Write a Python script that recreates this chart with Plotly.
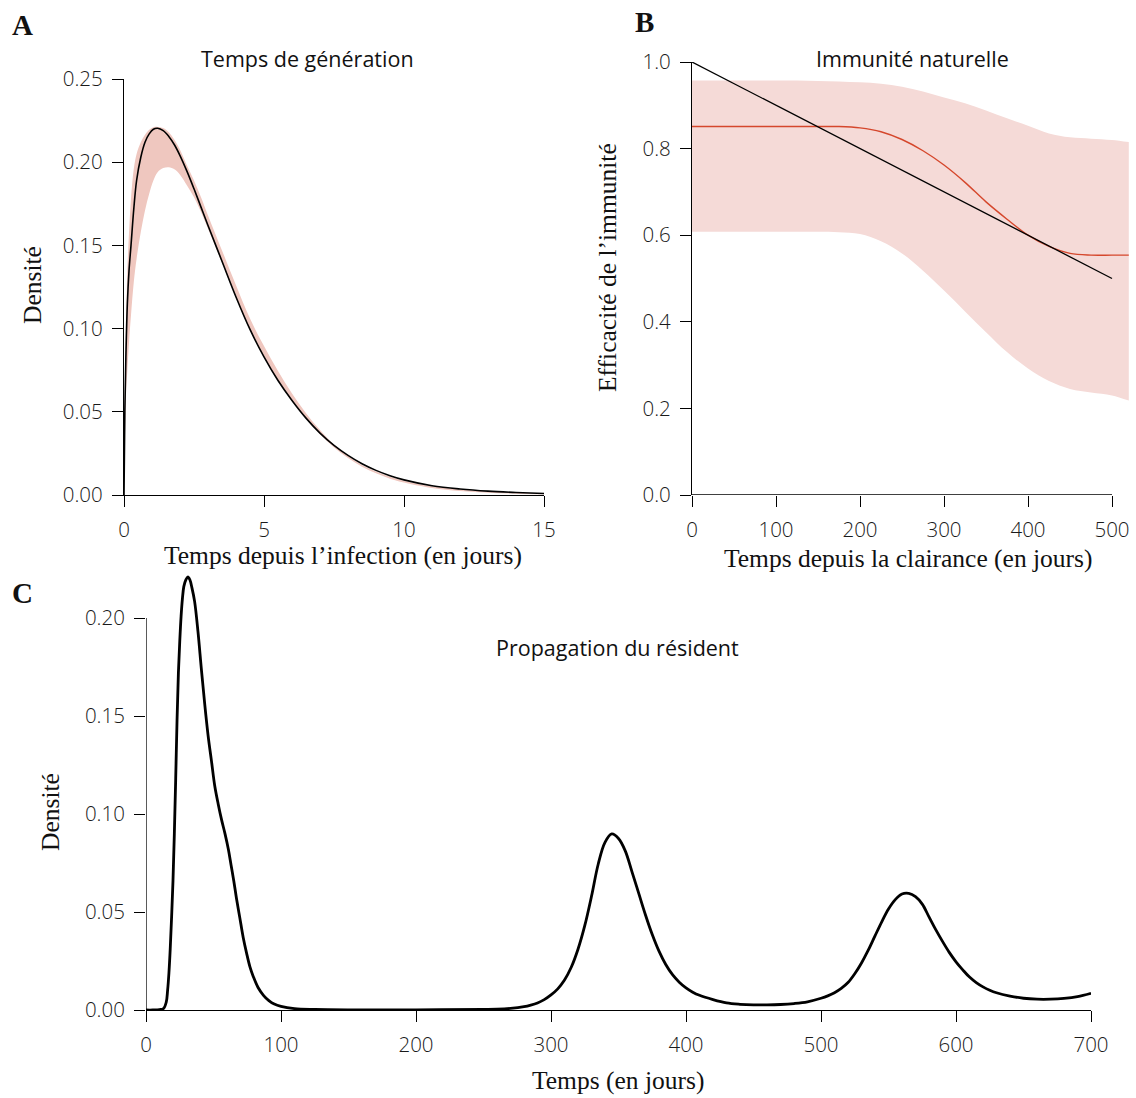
import plotly.graph_objects as go

# ---------------- Panel A : generation time ----------------
a_days = [0, 0.03, 0.07, 0.12, 0.18, 0.25, 0.35, 0.45, 0.6, 0.75, 0.9, 1.05, 1.2, 1.4, 1.6,
          1.8, 2.0, 2.25, 2.5, 2.75, 3.0, 3.5, 4.0, 4.5, 5.0, 5.5, 6.0, 6.5, 7.0, 7.5,
          8.0, 8.5, 9.0, 9.5, 10, 11, 12, 13, 14, 15]
a_density = [0, 0.05, 0.085, 0.115, 0.135, 0.150, 0.172, 0.189, 0.203, 0.212, 0.217, 0.2198,
             0.2204, 0.219, 0.2155, 0.2105, 0.204, 0.1945, 0.184, 0.173, 0.162, 0.1405,
             0.119, 0.0995, 0.0830, 0.0688, 0.0568, 0.0462, 0.0372, 0.0298, 0.0238, 0.0188,
             0.0148, 0.0116, 0.0091, 0.0056, 0.0036, 0.0023, 0.0015, 0.0009]
a_upper = [0, 0.06, 0.10, 0.135, 0.158, 0.178, 0.196, 0.205, 0.212, 0.2165, 0.2195, 0.221,
           0.2212, 0.2205, 0.218, 0.2135, 0.2075, 0.198, 0.189, 0.179, 0.168, 0.147, 0.126,
           0.106, 0.0895, 0.0745, 0.0610, 0.0492, 0.0390, 0.0302, 0.0234, 0.0181, 0.0141,
           0.0110, 0.0086, 0.0052, 0.0033, 0.0021, 0.0013, 0.0008]
a_lower = [0, 0.03, 0.06, 0.075, 0.092, 0.108, 0.128, 0.142, 0.158, 0.171, 0.181, 0.189,
           0.194, 0.1965, 0.197, 0.1958, 0.1925, 0.186, 0.179, 0.170, 0.160, 0.1395, 0.1185,
           0.0992, 0.0828, 0.0686, 0.0566, 0.0458, 0.0365, 0.0286, 0.0222, 0.0170, 0.0130,
           0.0098, 0.0075, 0.0042, 0.0024, 0.0014, 0.0008, 0.0005]
a_xticks = [0, 5, 10, 15]
a_yticks = [0.00, 0.05, 0.10, 0.15, 0.20, 0.25]

# ---------------- Panel B : natural immunity ----------------
b_days = [0, 25, 50, 75, 100, 125, 150, 175, 200, 225, 250, 275, 300, 325, 350, 375, 400,
          425, 450, 475, 500, 520]
b_upper = [0.957, 0.957, 0.957, 0.957, 0.957, 0.957, 0.956, 0.955, 0.953, 0.950, 0.943,
           0.932, 0.918, 0.905, 0.888, 0.870, 0.853, 0.835, 0.826, 0.823, 0.820, 0.815]
b_lower = [0.608, 0.608, 0.608, 0.608, 0.608, 0.608, 0.608, 0.607, 0.603, 0.586, 0.558,
           0.518, 0.472, 0.424, 0.376, 0.330, 0.292, 0.263, 0.245, 0.237, 0.230, 0.218]
b_median = [0.851, 0.851, 0.851, 0.851, 0.851, 0.851, 0.851, 0.851, 0.848, 0.839, 0.821,
            0.795, 0.762, 0.722, 0.677, 0.637, 0.600, 0.574, 0.558, 0.554, 0.554, 0.554]
b_line_days = [0, 500]
b_line_vals = [1.0, 0.5]
b_xticks = [0, 100, 200, 300, 400, 500]
b_yticks = [0.0, 0.2, 0.4, 0.6, 0.8, 1.0]

# ---------------- Panel C : resident spread ----------------
c_days = [0, 5, 10, 13, 15, 16, 17, 18, 19, 20, 21, 22, 23, 24, 25, 26, 27, 28, 29.5, 31,
          32.5, 34, 36, 38.5, 41, 43.5, 46, 48.5, 51, 53.5, 56, 58.5, 61, 63, 65, 67, 69.5,
          72, 74.5, 77, 79.5, 83, 87, 91, 95, 100, 110, 125, 150, 200, 250, 260, 270, 280,
          285, 290, 295, 300, 305, 310, 315, 320, 325, 330, 335, 340, 345, 350, 355, 360,
          365, 370, 375, 380, 385, 390, 395, 400, 405, 410, 420, 430, 440, 450, 460, 470,
          480, 490, 500, 505, 510, 515, 520, 525, 530, 535, 540, 545, 550, 555, 560, 565,
          570, 575, 580, 585, 590, 595, 600, 605, 610, 615, 620, 625, 630, 640, 650, 660,
          670, 680, 690, 700]
c_density = [0, 0, 0.0002, 0.0008, 0.004, 0.010, 0.019, 0.032, 0.048, 0.066, 0.090, 0.118,
             0.148, 0.172, 0.188, 0.201, 0.210, 0.216, 0.2195, 0.221, 0.2195, 0.2155,
             0.2085, 0.193, 0.174, 0.156, 0.140, 0.127, 0.114, 0.105, 0.097, 0.090, 0.082,
             0.074, 0.066, 0.057, 0.047, 0.037, 0.029, 0.022, 0.017, 0.0115, 0.0075, 0.0048,
             0.003, 0.0018, 0.0007, 0.0003, 0.0001, 0.0001, 0.0003, 0.0004, 0.0008, 0.0017,
             0.0025, 0.0036, 0.0053, 0.0077, 0.0108, 0.0153, 0.0218, 0.031, 0.043, 0.058,
             0.0745, 0.0855, 0.0898, 0.0875, 0.0812, 0.0705, 0.0595, 0.0485, 0.0385, 0.0300,
             0.0232, 0.0180, 0.0142, 0.0113, 0.0091, 0.0075, 0.0053, 0.0036, 0.0029, 0.0026,
             0.0026, 0.0028, 0.0033, 0.0042, 0.0060, 0.0072, 0.0088, 0.0110, 0.0140, 0.0185,
             0.0240, 0.0305, 0.0378, 0.0450, 0.0515, 0.0563, 0.0592, 0.0595, 0.0578, 0.0540,
             0.0475, 0.0410, 0.0350, 0.0294, 0.0246, 0.0205, 0.0168, 0.0140, 0.0118, 0.0101,
             0.0088, 0.0071, 0.0060, 0.0055, 0.0055, 0.0059, 0.0068, 0.0085]
c_xticks = [0, 100, 200, 300, 400, 500, 600, 700]
c_yticks = [0.00, 0.05, 0.10, 0.15, 0.20]

# ---------------- styling ----------------
W, H = 1136, 1098
SANS = "Open Sans"
SERIF = "Liberation Serif"
BAND_A = "#efc7bf"
BAND_B = "#f5dad7"
RED = "#d5472c"


def px_x(p):
    return p / W


def px_y(p):
    return 1 - p / H


fig = go.Figure()

# Panel A
fig.add_trace(go.Scatter(x=a_days, y=a_lower, mode="lines", line=dict(width=0),
                         line_shape="spline", hoverinfo="skip", xaxis="x", yaxis="y"))
fig.add_trace(go.Scatter(x=a_days, y=a_upper, mode="lines", line=dict(width=0), fill="tonexty",
                         fillcolor=BAND_A, line_shape="spline", hoverinfo="skip",
                         xaxis="x", yaxis="y"))
fig.add_trace(go.Scatter(x=a_days, y=a_density, mode="lines", line=dict(color="black", width=1.6),
                         line_shape="spline", xaxis="x", yaxis="y"))

# Panel B
fig.add_trace(go.Scatter(x=b_days, y=b_lower, mode="lines", line=dict(width=0),
                         line_shape="spline", hoverinfo="skip", xaxis="x2", yaxis="y2"))
fig.add_trace(go.Scatter(x=b_days, y=b_upper, mode="lines", line=dict(width=0), fill="tonexty",
                         fillcolor=BAND_B, line_shape="spline", hoverinfo="skip",
                         xaxis="x2", yaxis="y2"))
fig.add_trace(go.Scatter(x=b_days, y=b_median, mode="lines", line=dict(color=RED, width=1.4),
                         line_shape="spline", xaxis="x2", yaxis="y2"))
fig.add_trace(go.Scatter(x=b_line_days, y=b_line_vals, mode="lines",
                         line=dict(color="black", width=1.3), xaxis="x2", yaxis="y2"))

# Panel C
fig.add_trace(go.Scatter(x=c_days, y=c_density, mode="lines", line=dict(color="black", width=2.8),
                         line_shape="spline", xaxis="x3", yaxis="y3"))

tickfont = dict(family=SANS, size=20.5, color="#1a1a1a", weight=300)
axis_common = dict(showgrid=False, zeroline=False, ticks="outside", ticklen=11, tickwidth=1.3,
                   tickcolor="black", linecolor="black", linewidth=1.3, tickfont=tickfont,
                   ticklabelstandoff=5, automargin=False)

fig.update_layout(
    width=W, height=H, margin=dict(l=0, r=0, t=0, b=0, autoexpand=False),
    paper_bgcolor="white", plot_bgcolor="white", showlegend=False,
    xaxis=dict(domain=[px_x(124), px_x(544)], range=[0, 15], tickvals=a_xticks,
               showline=True, anchor="y", **axis_common),
    yaxis=dict(domain=[px_y(495), px_y(79)], range=[0, 0.25], tickvals=a_yticks,
               tickformat=".2f", showline=True, anchor="x", **axis_common),
    xaxis2=dict(domain=[px_x(692), 1.0], range=[0, (W - 692) / 0.84], tickvals=b_xticks,
                showline=False, anchor="y2", **axis_common),
    yaxis2=dict(domain=[px_y(495), px_y(62)], range=[0, 1.0], tickvals=b_yticks,
                tickformat=".1f", showline=True, anchor="x2", **axis_common),
    xaxis3=dict(domain=[px_x(146), px_x(1091)], range=[0, 700], tickvals=c_xticks,
                showline=True, anchor="y3", **axis_common),
    yaxis3=dict(domain=[px_y(1010), px_y(570)], range=[0, (1010 - 570) / 1960],
                tickvals=c_yticks, tickformat=".2f", showline=False, anchor="x3", **axis_common),
)

# axis lines limited to the tick span
fig.add_shape(type="line", xref="x2", yref="y2", x0=0, x1=b_xticks[-1], y0=0, y1=0,
              line=dict(color="black", width=1.3), layer="above")
fig.add_shape(type="line", xref="x3", yref="y3", x0=0, x1=0, y0=0, y1=c_yticks[-1],
              line=dict(color="black", width=1.3), layer="above")

annos = []


def text(t, x, y, font, angle=0):
    annos.append(dict(text=t, x=px_x(x), y=px_y(y), xref="paper", yref="paper",
                      xanchor="center", yanchor="middle", showarrow=False, font=font,
                      textangle=angle))


title_font = dict(family=SANS, size=21.5, color="#111111", weight=400)
axis_font = dict(family=SERIF, size=25.5, color="#111111")
label_font = dict(family=SERIF, size=29, color="#111111", weight=700)

text("Temps de génération", 307, 59, title_font)
text("Immunité naturelle", 912, 59, title_font)
text("Propagation du résident", 617, 647, title_font)

text("Densité", 33, 285, axis_font, -90)
text("Temps depuis l’infection (en jours)", 343, 555, axis_font)
text("Efficacité de l’immunité", 607, 268, axis_font, -90)
text("Temps depuis la clairance (en jours)", 908, 558, axis_font)
text("Densité", 50, 812, axis_font, -90)
text("Temps (en jours)", 618, 1080, axis_font)

text("A", 22, 25, label_font)
text("B", 644, 22, label_font)
text("C", 22, 593, label_font)

fig.update_layout(annotations=annos)

fig.write_html("out.html")
